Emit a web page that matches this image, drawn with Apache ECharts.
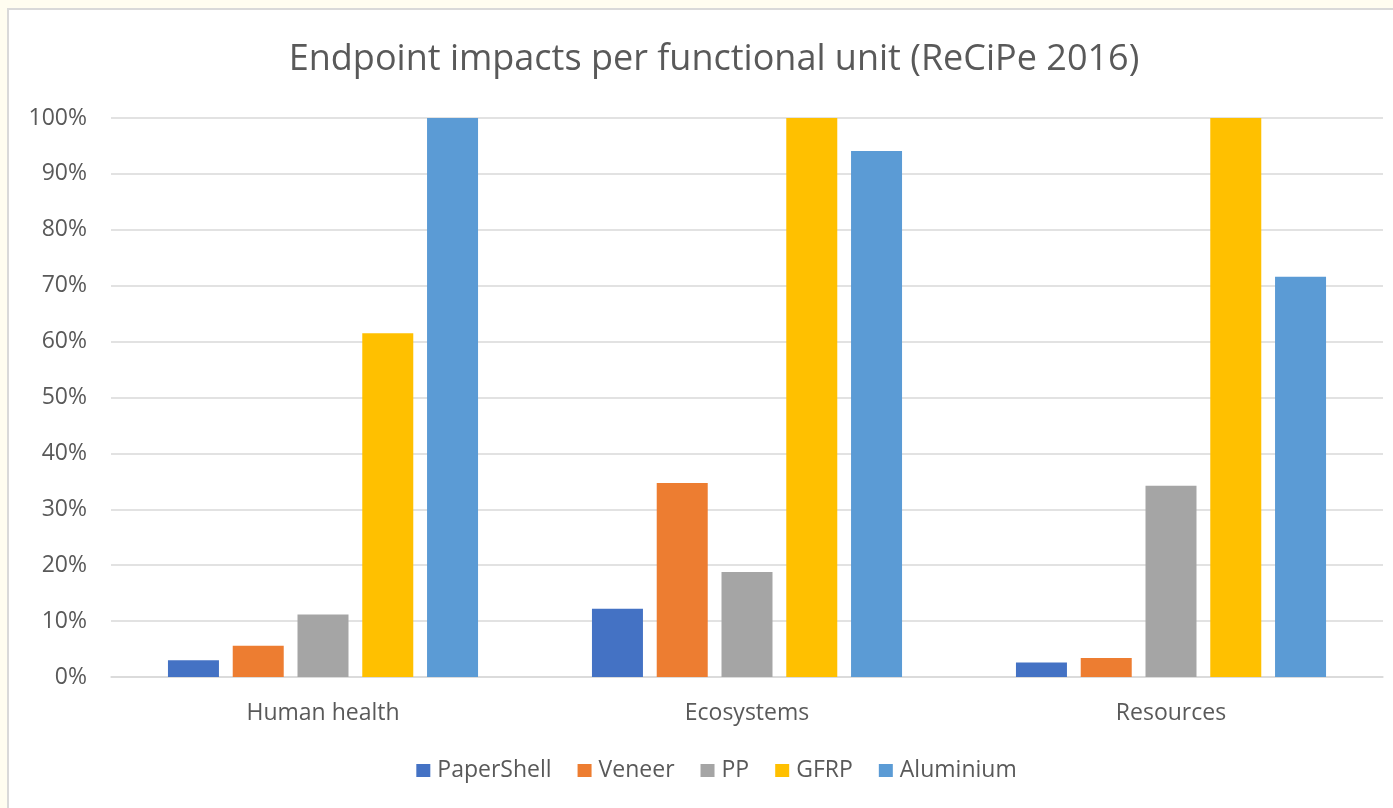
<!DOCTYPE html>
<html>
<head>
<meta charset="utf-8">
<script src="https://cdn.jsdelivr.net/npm/echarts@6/dist/echarts.min.js"></script>
<style>
  html, body { margin: 0; padding: 0; width: 1393px; height: 808px; overflow: hidden; background: #fffdf0; }
  #frame { position: absolute; left: 7px; top: 8px; width: 1440px; height: 820px; background: #ffffff; border: 2px solid #d9d9d9; box-sizing: border-box; }
  #chart { position: absolute; left: 0; top: 0; width: 1433px; height: 808px; }
</style>
</head>
<body>
<div id="frame"></div>
<div id="chart"></div>
<script>
// Impact categories on the x axis
const categories = ['Human health', 'Ecosystems', 'Resources'];

// Relative endpoint impact (% of the highest alternative) per product
const paperShell = [3.0, 12.2, 2.6];
const veneer     = [5.6, 34.7, 3.4];
const pp         = [11.2, 18.8, 34.2];
const gfrp       = [61.5, 100, 100];
const aluminium  = [100, 94.1, 71.6];

const seriesNames = ['PaperShell', 'Veneer', 'PP', 'GFRP', 'Aluminium'];
const seriesColors = ['#4472c4', '#ed7d31', '#a5a5a5', '#ffc000', '#5b9bd5'];
const seriesValues = [paperShell, veneer, pp, gfrp, aluminium];

const textColor = '#595959';
const fontFamily = '"Open Sans", sans-serif';

const chart = echarts.init(document.getElementById('chart'), null, { renderer: 'canvas' });

chart.setOption({
  animation: false,
  textStyle: { fontFamily: fontFamily, color: textColor },
  title: {
    text: 'Endpoint impacts per functional unit (ReCiPe 2016)',
    left: 709,
    textAlign: 'center',
    top: 37,
    textStyle: { fontSize: 36, fontWeight: 'normal', color: textColor, fontFamily: fontFamily }
  },
  legend: {
    data: seriesNames,
    top: 754,
    left: 'center',
    itemWidth: 14,
    itemHeight: 13,
    itemGap: 26,
    icon: 'rect',
    textStyle: { fontSize: 23, color: textColor, fontFamily: fontFamily, padding: [0, 0, 0, 2] }
  },
  grid: { left: 111, right: 50, top: 118, bottom: 131, containLabel: false },
  xAxis: {
    type: 'category',
    data: categories,
    axisLine: { lineStyle: { color: '#d9d9d9', width: 1.5 } },
    axisTick: { show: false },
    axisLabel: { fontSize: 23, color: textColor, margin: 25, fontFamily: fontFamily }
  },
  yAxis: {
    type: 'value',
    min: 0,
    max: 100,
    interval: 10,
    axisLine: { show: false },
    axisTick: { show: false },
    splitLine: { lineStyle: { color: '#d9d9d9', width: 1.5 } },
    axisLabel: { fontSize: 23, color: textColor, margin: 24, formatter: '{value}%', fontFamily: fontFamily }
  },
  series: seriesNames.map((name, i) => ({
    name: name,
    type: 'bar',
    data: seriesValues[i],
    barWidth: 51,
    barGap: '27%',
    itemStyle: { color: seriesColors[i] }
  }))
});
</script>
</body>
</html>
